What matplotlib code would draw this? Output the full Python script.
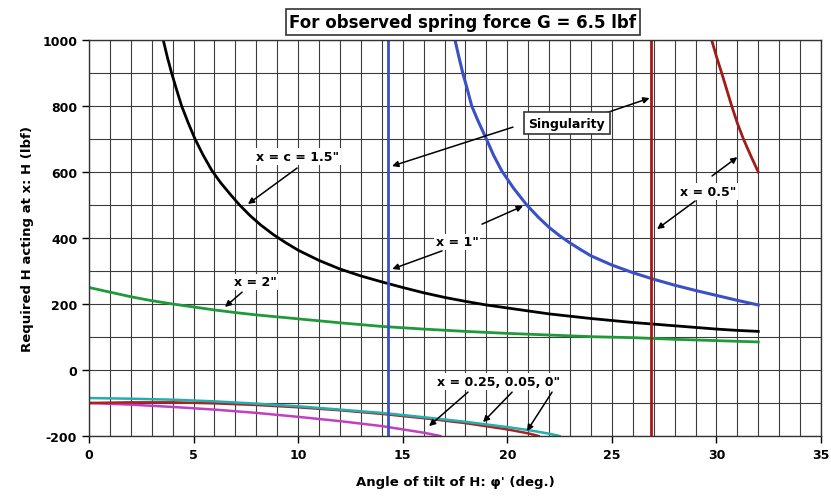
import numpy as np
import matplotlib.pyplot as plt
from matplotlib.ticker import MultipleLocator

# x = c = 1.5"
x_15 = [3.55, 3.75, 3.95, 4.2, 4.43, 4.75, 5.07, 5.45, 5.87, 6.3, 6.8, 7.2, 7.7, 8.2, 8.8, 9.4,
        10, 11, 12, 13, 14, 15, 16, 17, 18, 19, 20, 21, 22, 23, 24, 25, 26, 27, 28, 29, 30, 31, 32]
h_15 = [1000, 947, 900, 847, 800, 748, 700, 652, 605, 567, 529, 500, 468, 440, 411, 386,
        363, 332, 306, 285, 267, 250, 234, 220, 208, 197, 188, 179, 170, 163, 156, 150, 144, 139, 134, 129, 124, 120, 117]

# x = 2"
x_2 = [0, 1, 2, 3, 4, 5, 6, 7, 8, 9, 10, 12, 14, 16, 18, 20, 22, 24, 26, 28, 30, 32]
h_2 = [250, 236, 222, 210, 200, 191, 182, 174, 167, 161, 155, 143, 132, 124, 117, 111, 106, 101, 98, 93, 89, 85]

# x = 1"
x_1 = [17.5, 17.68, 17.87, 18.07, 18.3, 18.6, 19.0, 19.35, 19.73, 20.3, 20.93, 21.5, 22, 22.5, 23, 23.5,
       24, 25, 26, 27, 28, 29, 30, 31, 32]
h_1 = [1000, 950, 900, 855, 800, 755, 700, 650, 604, 551, 500, 462, 432, 407, 385, 365,
       346, 318, 295, 275, 257, 241, 226, 211, 197]

# x = 0.5"
x_05 = [29.77, 30.0, 30.25, 30.5, 30.73, 31.0, 31.29, 31.65, 32.0]
h_05 = [1000, 950, 900, 848, 800, 748, 700, 648, 600]

# x = 0"
x_0 = [0, 2, 4, 6, 8, 10, 12, 14, 16, 18, 20, 21, 22, 22.5]
h_0 = [-85, -87, -90, -95, -102, -110, -120, -130, -143, -157, -173, -182, -193, -200]

# x = 0.05"
x_005 = [0, 2, 4, 6, 8, 10, 12, 14, 16, 18, 20, 21, 21.5]
h_005 = [-100, -98, -98, -101, -106, -113, -122, -133, -146, -161, -180, -192, -200]

# x = 0.25"
x_025 = [0, 2, 4, 6, 8, 10, 12, 14, 15, 16, 16.8]
h_025 = [-100, -105, -112, -120, -130, -142, -155, -170, -180, -190, -200]

# singularities
sing_1 = 14.3
sing_05 = 26.87

plt.rcParams['font.family'] = 'DejaVu Sans'
plt.rcParams['axes.unicode_minus'] = False
fig = plt.figure(figsize=(8.31, 5.02), dpi=100)
ax = fig.add_axes([0.1071, 0.1295, 0.8809, 0.7888])

ax.set_xlim(0, 35)
ax.set_ylim(-200, 1000)
ax.xaxis.set_major_locator(MultipleLocator(5))
ax.xaxis.set_minor_locator(MultipleLocator(1))
ax.yaxis.set_major_locator(MultipleLocator(200))
ax.yaxis.set_minor_locator(MultipleLocator(100))
ax.grid(True, which='both', color='#3c3c3c', lw=0.8)
ax.set_axisbelow(True)
ax.tick_params(which='major', length=5, width=1, labelsize=9)
ax.tick_params(which='minor', length=0)
for lab in ax.get_xticklabels() + ax.get_yticklabels():
    lab.set_fontweight('bold')
for s in ax.spines.values():
    s.set_color('#333333')
    s.set_linewidth(1.0)

ax.plot(x_15, h_15, color='black', lw=2)
ax.plot(x_2, h_2, color='#1f9a3a', lw=2)
ax.plot(x_1, h_1, color='#3a50c8', lw=2.2)
ax.plot(x_05, h_05, color='#a31a1a', lw=2)
ax.plot(x_025, h_025, color='#c040c0', lw=1.8)
ax.plot(x_005, h_005, color='#b02020', lw=1.8)
ax.plot(x_0, h_0, color='#20b0b0', lw=1.8)
ax.axvline(sing_1, color='#3a50c8', lw=2)
ax.axvline(sing_05, color='#a31a1a', lw=2)

ax.set_xlabel("Angle of tilt of H: \u03c6' (deg.)", fontsize=9.5, fontweight='bold', labelpad=10)
ax.set_ylabel('Required H acting at x: H (lbf)', fontsize=9.5, fontweight='bold', labelpad=6)

fig.text(0.557, 0.954, 'For observed spring force G = 6.5 lbf', ha='center', va='center',
         fontsize=12, fontweight='bold',
         bbox=dict(boxstyle='square,pad=0.22', fc='white', ec='#333333', lw=1.2))

lbl = dict(fontsize=9, fontweight='bold', ha='center', va='center',
           bbox=dict(boxstyle='square,pad=0.15', fc='white', ec='none'))
arr = dict(arrowstyle='-|>', color='black', lw=1.1, mutation_scale=9, shrinkA=0, shrinkB=0)

ax.text(9.95, 648, 'x = c = 1.5"', **lbl)
ax.annotate('', xy=(7.6, 503), xytext=(9.95, 612), arrowprops=arr)

ax.text(7.94, 267, 'x = 2"', **lbl)
ax.annotate('', xy=(6.5, 191), xytext=(7.32, 236), arrowprops=arr)

ax.annotate('', xy=(14.49, 618), xytext=(20.27, 736), arrowprops=arr)
ax.annotate('', xy=(26.8, 824), xytext=(24.58, 776), arrowprops=arr)
ax.text(22.85, 748, 'Singularity', fontsize=9, fontweight='bold', ha='center', va='center',
        bbox=dict(boxstyle='square,pad=0.35', fc='white', ec='#333333', lw=1.2))

ax.text(17.6, 388, 'x = 1"', **lbl)
ax.annotate('', xy=(20.75, 497), xytext=(18.79, 442), arrowprops=arr)
ax.annotate('', xy=(14.5, 306), xytext=(16.88, 361), arrowprops=arr)

ax.text(29.6, 542, 'x = 0.5"', **lbl)
ax.annotate('', xy=(31.0, 645), xytext=(29.79, 588), arrowprops=arr)
ax.annotate('', xy=(27.16, 427), xytext=(28.98, 512), arrowprops=arr)

ax.text(19.56, -36, 'x = 0.25, 0.05, 0"', **lbl)
ax.annotate('', xy=(16.26, -170), xytext=(18.12, -67), arrowprops=arr)
ax.annotate('', xy=(18.84, -158), xytext=(20.23, -67), arrowprops=arr)
ax.annotate('', xy=(20.94, -185), xytext=(22.14, -67), arrowprops=arr)

plt.savefig('out.png', dpi=100)
